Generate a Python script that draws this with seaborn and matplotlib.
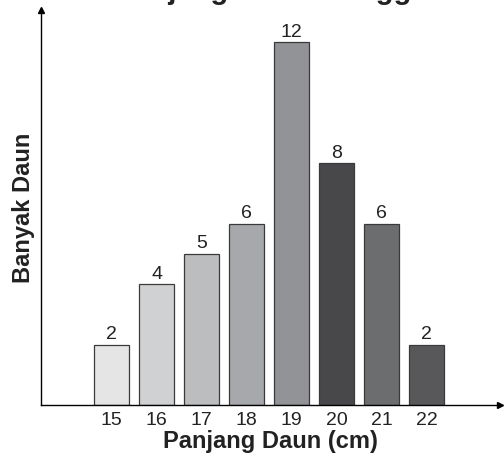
import matplotlib.pyplot as plt
import seaborn as sns
import pandas as pd

# Panjang daun (cm) dan banyak daun
panjang = ["15", "16", "17", "18", "19", "20", "21", "22"]
banyak = [2, 4, 5, 6, 12, 8, 6, 2]
warna = ["#e4e5e4", "#d0d1d3", "#bcbdbf", "#a7a8ab",
         "#929397", "#48484b", "#6c6d6f", "#58585b"]

judul = "Panjang Daun Mangga"
label_x = "Panjang Daun (cm)"
label_y = "Banyak Daun"

sns.set_style("white")
plt.rcParams["font.family"] = ["Liberation Sans", "DejaVu Sans"]

df = pd.DataFrame({"panjang": panjang, "banyak": banyak})

fig = plt.figure(figsize=(5.04, 4.55), dpi=100)
ax = fig.add_axes([0.0813, 0.1099, 0.9107, 0.868])

sns.barplot(data=df, x="panjang", y="banyak", hue="panjang", palette=warna,
            legend=False, width=0.78, edgecolor="#3a3a3a", linewidth=0.9,
            saturation=1, ax=ax)

for c in ax.containers:
    ax.bar_label(c, padding=1, fontsize=14, color="#222222")

ax.set_xlim(-1.57, 8.63)
ax.set_ylim(0, 13.06)
ax.set_yticks([])
ax.tick_params(axis="x", length=0, labelsize=14, pad=5, colors="#222222")
ax.set_xlabel(label_x, fontsize=17, fontweight="bold", labelpad=1, color="#222222")
ax.set_ylabel(label_y, fontsize=17, fontweight="bold", labelpad=4, color="#222222")

sns.despine(ax=ax)
for s in ["left", "bottom"]:
    ax.spines[s].set_color("black")
    ax.spines[s].set_linewidth(1.0)

# panah pada ujung sumbu
ax.plot(1, 0, ">", color="black", markersize=5, transform=ax.transAxes, clip_on=False)
ax.plot(0, 1, "^", color="black", markersize=5, transform=ax.transAxes, clip_on=False)

# judul yang terpotong di bagian atas
fig.text(0.538, 1.002, judul, ha="center", va="baseline", fontsize=21,
         fontweight="bold", color="#222222")

plt.savefig("out.png", dpi=100)
